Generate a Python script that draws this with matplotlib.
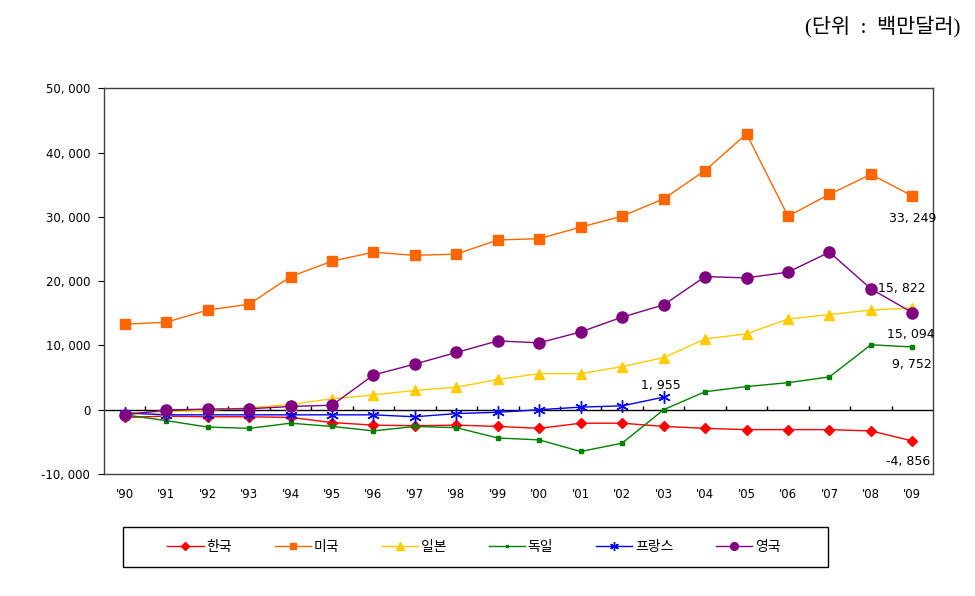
import numpy as np
import matplotlib
matplotlib.use("Agg")
import matplotlib.pyplot as plt
from matplotlib.patches import Rectangle
from matplotlib.ticker import FuncFormatter

plt.rcParams['font.family'] = ['DejaVu Sans', 'Noto Sans CJK KR']

years = ["'90", "'91", "'92", "'93", "'94", "'95", "'96", "'97", "'98", "'99",
         "'00", "'01", "'02", "'03", "'04", "'05", "'06", "'07", "'08", "'09"]

korea = [-1200, -1000, -1100, -1100, -1200, -2000, -2400, -2500, -2400, -2600,
         -2900, -2100, -2100, -2600, -2900, -3100, -3100, -3100, -3300, -4856]
usa = [13300, 13600, 15500, 16400, 20700, 23100, 24500, 24000, 24200, 26400,
       26600, 28400, 30100, 32800, 37200, 42900, 30100, 33500, 36600, 33249]
japan = [-500, -300, -100, 300, 800, 1700, 2300, 3000, 3500, 4700,
         5600, 5600, 6700, 8100, 11000, 11800, 14100, 14800, 15500, 15822]
germany = [-800, -1700, -2700, -2900, -2100, -2600, -3300, -2600, -2800, -4400,
           -4700, -6500, -5200, 0, 2800, 3600, 4200, 5100, 10100, 9752]
france = [-500, -800, -800, -800, -800, -800, -800, -1100, -600, -400,
          0, 400, 600, 1955]
uk = [-800, -50, 100, 150, 500, 700, 5400, 7100, 8900, 10700,
      10400, 12100, 14400, 16300, 20700, 20500, 21400, 24500, 18800, 15094]

labels = ["한국", "미국", "일본", "독일", "프랑스", "영국"]

fig = plt.figure(figsize=(9.75, 5.96), dpi=100)
ax = fig.add_axes([0.1067, 0.2047, 0.8503, 0.6473])

x = np.arange(len(years))
ax.plot(x, korea, color='#FF0000', lw=1, marker='D', ms=5.5, label=labels[0])
ax.plot(x, usa, color='#FF6600', lw=1, marker='s', ms=6.5, label=labels[1])
ax.plot(x, japan, color='#FFCC00', lw=1, marker='^', ms=7.5, label=labels[2])
ax.plot(x, germany, color='#008000', lw=1, marker='s', ms=3, label=labels[3])
ax.plot(x[:len(france)], france, color='#0000FF', lw=1, marker=(6, 2, 0), ms=9,
        mew=1, label=labels[4])
ax.plot(x, uk, color='#800080', lw=1, marker='o', ms=8, label=labels[5])

# zero line with category ticks
ax.axhline(0, color='black', lw=1, zorder=1)
ax.vlines(np.arange(0.5, len(years) - 0.5), 0, 600, color='black', lw=1, zorder=1)

ax.set_xlim(-0.5, len(years) - 0.5)
ax.set_ylim(-10000, 50000)
ax.set_yticks(np.arange(-10000, 50001, 10000))
ax.yaxis.set_major_formatter(FuncFormatter(lambda v, p: f"{int(v):,}".replace(",", ", ")))
ax.set_xticks(x)
ax.set_xticklabels(years)
ax.tick_params(axis='x', length=0, pad=10, labelsize=8.5)
ax.tick_params(axis='y', length=4, direction='out', labelsize=8.5, pad=6)
for s in ax.spines.values():
    s.set_color('#404040')
    s.set_linewidth(1)

# value annotations
ax.annotate("33, 249", (19, usa[-1]), xytext=(0, -19), textcoords='offset points',
            ha='center', fontsize=9)
ax.annotate("15, 822", (18, uk[18]), xytext=(5, -2), textcoords='offset points',
            ha='left', fontsize=9)
ax.annotate("15, 094", (19, uk[-1]), xytext=(-1, -18), textcoords='offset points',
            ha='center', fontsize=9)
ax.annotate("9, 752", (19, germany[-1]), xytext=(0, -15), textcoords='offset points',
            ha='center', fontsize=9)
ax.annotate("-4, 856", (19, korea[-1]), xytext=(-3, -17), textcoords='offset points',
            ha='center', fontsize=9)
ax.annotate("1, 955", (13, france[-1]), xytext=(-2, 6), textcoords='offset points',
            ha='center', fontsize=9)

fig.text(0.985, 0.955, "(단위  :  백만달러)", ha='right', va='center', fontsize=15,
         family=['Liberation Serif', 'Noto Sans CJK KR'])

# legend: entries spread inside a separate box
leg = fig.legend(loc='center', ncol=6, mode='expand',
                 bbox_to_anchor=(0.166, 0.049, 0.64, 0.067),
                 prop={'family': ['Noto Sans CJK KR', 'DejaVu Sans'], 'size': 10},
                 markerscale=0.7, handlelength=2.6, handletextpad=0.2,
                 frameon=False, borderaxespad=0)
fig.patches.append(Rectangle((0.126, 0.049), 0.723, 0.067, transform=fig.transFigure,
                             fill=False, edgecolor='black', lw=1))

fig.savefig("out.png", dpi=100)
